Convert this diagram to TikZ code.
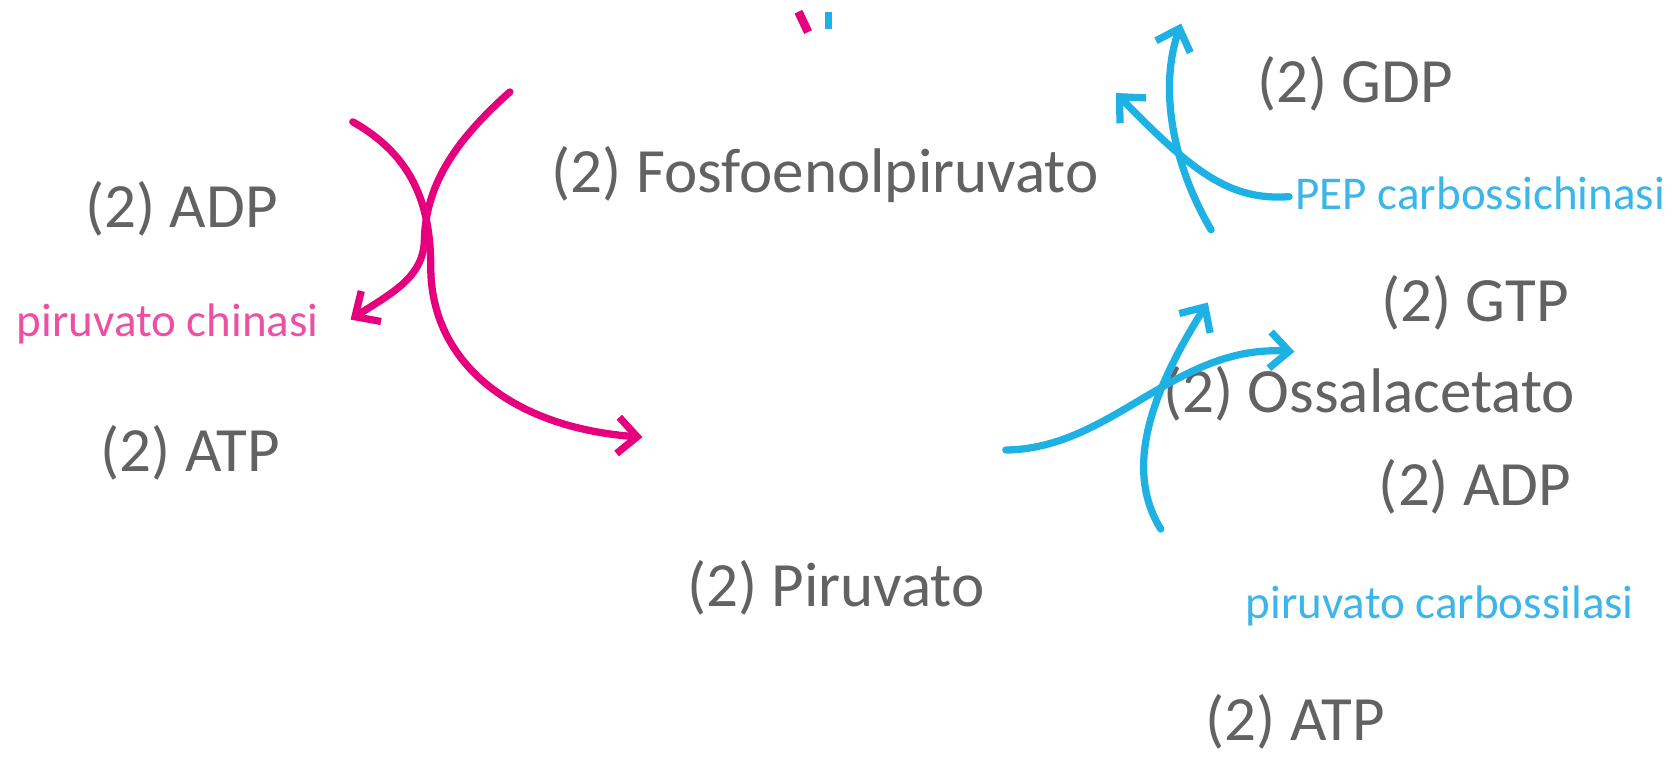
\documentclass[tikz,border=0pt]{standalone}
\usepackage{fontspec}
\setmainfont{Carlito}
\usetikzlibrary{arrows.meta}
\definecolor{txtgray}{RGB}{98,98,98}
\definecolor{mag}{RGB}{230,0,126}
\definecolor{magtxt}{RGB}{236,80,165}
\definecolor{cya}{RGB}{30,178,228}
\definecolor{cyatxt}{RGB}{60,182,232}
\tikzset{
  metab/.style={text=txtgray, inner sep=0pt, font=\fontsize{29.5}{34}\selectfont},
  enzyme/.style={inner sep=0pt, font=\fontsize{22}{26}\selectfont},
  arcline/.style={line width=3.4pt, line cap=round},
  barb/.style={-{Straight Barb[length=9pt,width=17pt]}}
}
\begin{document}
\begin{tikzpicture}[x=0.5pt,y=-0.5pt]
\useasboundingbox (0,0) rectangle (1568,711);
% texts
\node[metab] (pep) at (772,163) {(2) Fosfoenolpiruvato};
\node[metab] (adpL) at (170,195) {(2) ADP};
\node[enzyme, text=magtxt] (pk) at (157,303) {piruvato chinasi};
\node[metab] (atpL) at (178,424) {(2) ATP};
\node[metab] (pir) at (782,550) {(2) Piruvato};
\node[metab] (gdp) at (1268,78) {(2) GDP};
\node[enzyme, text=cyatxt] (pepck) at (1385,181) {PEP carbossichinasi};
\node[metab] (gtp) at (1380,283) {(2) GTP};
\node[metab] (oaa) at (1281,368) {(2) Ossalacetato};
\node[metab] (adpR) at (1380,455) {(2) ADP};
\node[enzyme, text=cyatxt] (pc) at (1347,567) {piruvato carbossilasi};
\node[metab] (atpB) at (1212,675) {(2) ATP};
% free ends
\coordinate (a1) at (477,86);  \coordinate (a2) at (328,299);
\coordinate (b1) at (330,114); \coordinate (b2) at (601,409);
\coordinate (c1) at (941,421); \coordinate (c2) at (1211,329);
\coordinate (d1) at (1086,495); \coordinate (d2) at (1130,283);
\coordinate (e1) at (1133,215); \coordinate (e2) at (1105,22);
\coordinate (f1) at (1206,184); \coordinate (f2) at (1044,87);
\coordinate (t1) at (747,11); \coordinate (t2) at (756,30);
\coordinate (u1) at (775,11); \coordinate (u2) at (775,27);
% magenta arcs
\draw[arcline, mag, barb] (b1) .. controls (385,145) and (403,190) .. (403,250)
   .. controls (403,340) and (480,400) .. (b2);
\draw[arcline, mag, barb] (a1) .. controls (430,128) and (398,170) .. (397,225)
   .. controls (396,260) and (365,275) .. (a2);
% cyan lower
\draw[arcline, cya, barb] (c1) .. controls (1040,420) and (1100,322) .. (c2);
\draw[arcline, cya, barb] (d1) .. controls (1052,440) and (1075,370) .. (d2);
% cyan upper
\draw[arcline, cya, barb] (e1) .. controls (1095,150) and (1085,80) .. (e2);
\draw[arcline, cya, barb] (f1) .. controls (1150,188) and (1115,160) .. (f2);
% cut-off strokes at the top
\draw[line width=4pt, mag] (t1) -- (t2);
\draw[line width=3pt, cya] (u1) -- (u2);
\end{tikzpicture}
\end{document}
